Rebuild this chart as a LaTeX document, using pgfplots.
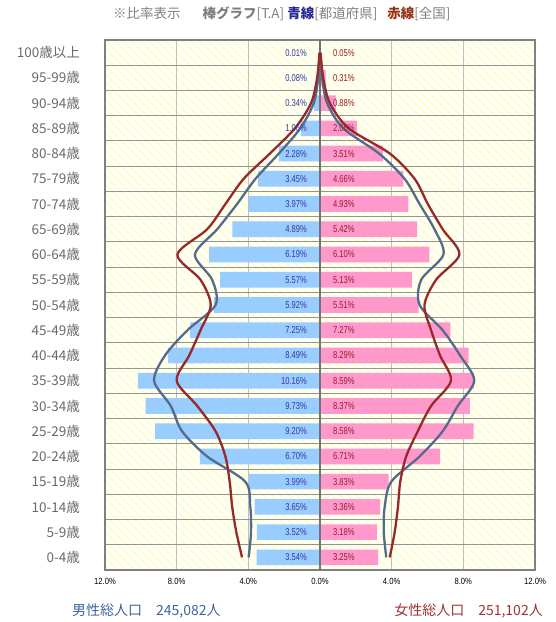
\documentclass[border=0pt]{standalone}
\usepackage{fontspec}
\setmainfont{Noto Sans CJK JP}
\newfontfamily\numfont{Liberation Sans}[FakeStretch=0.85]
\newfontfamily\labfont{Liberation Sans}[FakeStretch=0.76]
\usepackage{pgfplots}
\usepackage{pgfplotstable}
\pgfplotsset{compat=1.18}
\usetikzlibrary{patterns.meta}

\definecolor{mbar}{RGB}{153,204,255}
\definecolor{fbar}{RGB}{255,153,204}
\definecolor{prefline}{RGB}{84,108,138}
\definecolor{natline}{RGB}{150,42,42}
\definecolor{mlab}{RGB}{55,55,160}
\definecolor{flab}{RGB}{150,28,45}
\definecolor{hatch}{RGB}{255,255,206}
\definecolor{ticklab}{RGB}{105,105,105}
\definecolor{titlegray}{RGB}{128,128,128}
\definecolor{titleblue}{RGB}{40,40,150}
\definecolor{titlered}{RGB}{150,50,20}
\definecolor{totblue}{RGB}{60,100,160}
\definecolor{totred}{RGB}{160,50,50}

% k: 0 = 0-4, 20 = 100+
% m,f: bars (T.A); pm,pf: prefecture (blue line); nm,nf: national (red line)
\pgfplotstableread{
k  m     f     pm    nm    pf    nf
20 0.01  0.05  0.03  0.03  0.03  0.03
19 0.08  0.31  0.10  0.16  0.12  0.18
18 0.34  0.88  0.35  0.50  0.40  0.55
17 1.06  2.06  1.10  1.40  1.30  1.60
16 2.28  3.51  2.30  2.80  3.30  3.90
15 3.45  4.66  3.60  4.26  4.72  5.28
14 3.97  4.93  4.63  5.28  5.56  6.02
13 4.89  5.42  5.74  6.30  6.39  6.85
12 6.19  6.10  6.98  7.96  6.89  7.78
11 5.57  5.13  6.02  6.67  5.65  6.48
10 5.92  5.51  5.83  6.10  5.56  5.83
9  7.25  7.27  7.40  6.67  6.85  6.20
8  8.49  8.29  8.65  7.30  7.82  6.70
7  10.16 8.59  9.26  8.00  8.61  7.31
6  9.73  8.37  8.33  6.85  7.69  6.20
5  9.20  8.58  7.70  5.83  6.85  5.46
4  6.70  6.71  6.30  5.28  5.56  4.81
3  3.99  3.83  4.17  5.04  3.98  4.48
2  3.65  3.36  3.89  4.90  3.61  4.35
1  3.52  3.18  3.85  4.67  3.56  4.17
0  3.54  3.25  3.98  4.35  3.70  3.89
}\data

\begin{document}
\begin{tikzpicture}
\useasboundingbox (-105pt,-52pt) rectangle (450pt,570pt);
\begin{axis}[
  at={(0pt,0pt)}, anchor=south west,
  scale only axis, width=430pt, height=530pt,
  xmin=-12, xmax=12, ymin=-0.5, ymax=20.5,
  xtick={-12,-8,-4,0,4,8,12},
  xticklabels={12.0\%,8.0\%,4.0\%,0.0\%,4.0\%,8.0\%,12.0\%},
  ytick={0,...,20},
  yticklabels={0-4歳,5-9歳,10-14歳,15-19歳,20-24歳,25-29歳,30-34歳,35-39歳,40-44歳,45-49歳,50-54歳,55-59歳,60-64歳,65-69歳,70-74歳,75-79歳,80-84歳,85-89歳,90-94歳,95-99歳,100歳以上},
  minor ytick={0.5,1.5,...,19.5},
  ymajorgrids=false, yminorgrids=true, xmajorgrids=true,
  minor grid style={draw=black!42, line width=1pt},
  major grid style={draw=black!25, line width=0.9pt},
  major tick length=0pt, minor tick length=0pt,
  axis line style={draw=black!50, line width=1.6pt},
  yticklabel style={font=\fontsize{13.5}{14}\selectfont, text=ticklab, inner sep=0pt, xshift=-25pt},
  xticklabel style={font=\numfont\fontsize{9}{10}\selectfont, text=black, inner sep=0pt, yshift=-8pt},
  /pgf/number format/assume math mode=true,
  axis background/.style={fill=white, postaction={pattern={Lines[angle=-45,distance=6pt,line width=2.3pt]}, pattern color=hatch}},
]
% bars
\addplot[xbar, fill=mbar, draw=none, bar width=0.62, bar shift=0pt] table[x expr=-\thisrow{m}, y=k]{\data};
\addplot[xbar, fill=fbar, draw=none, bar width=0.62, bar shift=0pt] table[x=f, y=k]{\data};
% centre line
\draw[black!55, line width=1.6pt] (axis cs:0,-0.5) -- (axis cs:0,20.5);
% lines
\addplot[prefline, line width=2.3pt, smooth, mark=none, line join=round] table[x expr=-\thisrow{pm}, y=k]{\data};
\addplot[prefline, line width=2.3pt, smooth, mark=none, line join=round] table[x=pf, y=k]{\data};
\addplot[natline, line width=2.3pt, smooth, mark=none, line join=round] table[x expr=-\thisrow{nm}, y=k]{\data};
\addplot[natline, line width=2.3pt, smooth, mark=none, line join=round] table[x=nf, y=k]{\data};
% value labels
\addplot[draw=none, mark=none, point meta=explicit,
  nodes near coords={\pgfmathprintnumber[fixed,fixed zerofill,precision=2]{\pgfplotspointmeta}\%},
  every node near coord/.append style={anchor=east, inner sep=0pt, text=mlab, font=\labfont\fontsize{10}{10}\selectfont}]
  table[x expr=-0.72, y=k, meta=m]{\data};
\addplot[draw=none, mark=none, point meta=explicit,
  nodes near coords={\pgfmathprintnumber[fixed,fixed zerofill,precision=2]{\pgfplotspointmeta}\%},
  every node near coord/.append style={anchor=west, inner sep=0pt, text=flab, font=\labfont\fontsize{10}{10}\selectfont}]
  table[x expr=0.72, y=k, meta=f]{\data};
\end{axis}
\node[anchor=west, inner sep=0pt, font=\fontsize{13.5}{14}\selectfont, text=titlegray] at (8pt,556pt)
  {※比率表示\hspace{22pt}\textbf{棒グラフ}[T.A]\hspace{3pt}\textcolor{titleblue}{\textbf{青線}}[都道府県]\hspace{10pt}\textcolor{titlered}{\textbf{赤線}}[全国]};
\node[anchor=west, inner sep=0pt, font=\fontsize{14}{15}\selectfont, text=totblue] at (-33pt,-41pt) {男性総人口\hspace{14pt}245,082人};
\node[anchor=east, inner sep=0pt, font=\fontsize{14}{15}\selectfont, text=totred] at (438pt,-41pt) {女性総人口\hspace{14pt}251,102人};
\end{tikzpicture}
\end{document}
